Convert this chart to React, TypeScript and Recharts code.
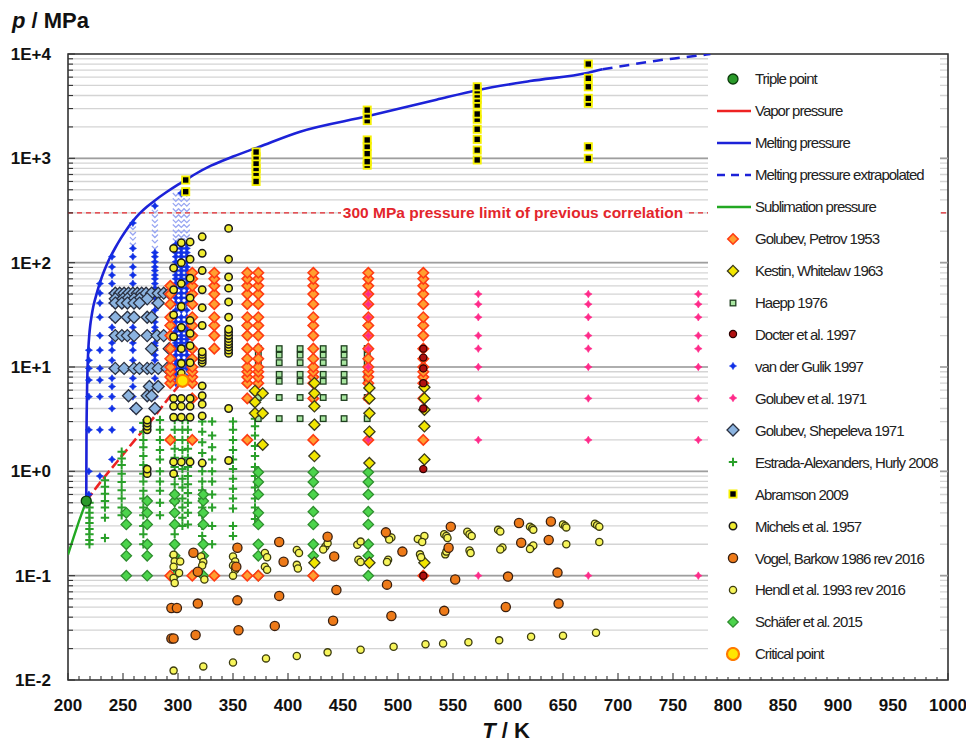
import React from 'react';
import {
  ComposedChart,
  Scatter,
  Line,
  XAxis,
  YAxis,
  CartesianGrid,
  ReferenceLine,
  ReferenceArea,
  Legend,
} from 'recharts';

// ---------- axis ticks ----------
const xLabelTicks = [200, 250, 300, 350, 400, 450, 500, 550, 600, 650, 700, 750, 800, 850, 900, 950, 1000];
const yDecades = [0.01, 0.1, 1, 10, 100, 1000, 10000];
const yDecadeLabels = ['1E-2', '1E-1', '1E+0', '1E+1', '1E+2', '1E+3', '1E+4'];

// ---------- phase boundaries (T / K, p / MPa) ----------
const triplePoint: [number, number][] = [[216.59, 0.5185]];
const criticalPoint: [number, number][] = [[304.13, 7.377]];

const sublimationCurve: [number, number][] = [
  [200, 0.159], [205, 0.232], [210, 0.333], [216.59, 0.5185],
];
const vaporCurve: [number, number][] = [
  [216.59, 0.5185], [230, 0.8], [245, 1.25], [260, 1.95], [275, 3.0], [290, 4.8], [304.13, 7.377],
];
const meltingCurve: [number, number][] = [
  [216.59, 0.5185], [216.8, 2], [217.2, 5], [217.8, 10], [218.5, 15], [219.3, 20], [220.2, 25],
  [221.5, 31], [223, 38], [225, 46], [227.5, 57], [230, 69], [233, 84], [236, 100], [239, 116],
  [243, 139], [248, 171], [253, 206], [259, 250], [265, 295], [272, 345], [279, 395], [289, 470],
  [300, 560], [307, 620], [315, 700], [330, 850], [350, 1040], [373, 1280], [411, 1800],
  [473, 2540], [535, 3650], [573, 4520], [620, 5500], [673, 6620], [686, 7130],
];
const meltingExtrapolated: [number, number][] = [
  [686, 7130], [710, 7850], [735, 8630], [760, 9300], [784, 10000],
];
const previousLimit = 300;

// ---------- experimental data ----------
// isotherms: [T, pressures]
const golubevPetrov1953: [number, number[]][] = [
  [293, [0.1, 2, 7, 8, 9, 10, 12, 15, 20, 25, 30, 40, 50, 60]],
  [313, [0.1, 2, 5, 7, 8, 9, 10, 12, 15, 20, 25, 30, 40, 50, 60, 70, 80]],
  [333, [0.1, 15, 20, 25, 30, 40, 50, 60, 70, 80]],
  [363, [0.1, 2, 5, 7, 8, 9, 10, 12, 15, 20, 25, 30, 40, 50, 60, 70, 80]],
  [373, [0.1, 7, 8, 9, 10, 12, 15, 20, 25, 30, 40, 50, 60, 70, 80]],
  [423, [0.1, 2, 5, 7, 8, 9, 10, 12, 15, 20, 25, 30, 40, 50, 60, 70, 80]],
  [473, [2, 5, 7, 8, 9, 10, 12, 15, 20, 25, 30, 40, 50, 60, 70, 80]],
  [523, [0.1, 2, 5, 7, 8, 9, 10, 12, 15, 20, 25, 30, 40, 50, 60, 70, 80]],
];
const kestinWhitelaw1963: [number, number[]][] = [
  [370, [3.6, 4.6, 5.9]],
  [377, [1.8, 3.6, 5.6]],
  [424, [0.133, 1.4, 2.8, 4.2, 5.6, 7.0]],
  [474, [0.133, 1.2, 2.4, 3.6, 5.0, 6.3]],
  [524, [0.133, 1.3, 2.7, 3.9, 5.0, 6.4]],
];
const haepp1976: [number, number[]][] = [
  [373, [3.2, 5.1, 7.3, 8.5, 11, 13, 15]],
  [392, [3.2, 5.1, 7.3, 8.5, 11, 13, 15]],
  [411, [3.2, 5.1, 7.3, 8.5, 11, 13, 15]],
  [432, [3.2, 5.1, 7.3, 8.5, 11, 13, 15]],
  [451, [3.2, 5.1, 7.3, 8.5, 11, 13, 15]],
  [472, [3.2, 5.1, 7.3, 8.5, 11, 13, 15]],
];
const docter1997: [number, number[]][] = [
  [523, [0.1, 1.05, 4.0, 7.0, 9.7, 12.3, 15]],
];
const vanDerGulik1997: [number, number[]][] = [
  [219, [0.6, 1.0, 2.5, 5.2, 7.5, 9.7, 11.6, 14.5]],
  [229, [0.9, 2.5, 5.2, 7.5, 9.7, 14.5, 20, 30, 41, 51, 63]],
  [240, [1.3, 2.5, 4, 5.2, 6.5, 7.8, 9.7, 11.6, 14.5, 17, 20, 24, 30, 41, 51, 63, 76, 91, 114]],
  [259, [2.5, 4, 5.2, 6.5, 7.8, 9.7, 11.6, 14.5, 17, 20, 24, 30, 41, 51, 63, 76, 91, 114, 137, 240]],
  [279, [5.2, 6.5, 7.8, 9.7, 11.6, 13, 14.5, 16, 17, 20, 22, 24, 27, 30, 35, 41, 46, 51, 57, 63, 70, 76, 84, 91, 102, 114, 125, 350]],
  [298, [7, 7.8, 8.7, 9.7, 10.6, 11.6, 13, 14.5, 16, 17, 18.5, 20, 22, 24, 27, 30, 35, 41, 46, 51, 57, 63, 70, 76, 84, 91, 102, 114, 125, 137, 150]],
  [303, [7.6, 8.5, 9.7, 10.6, 11.6, 13, 14.5, 16, 17, 18.5, 20, 22, 24, 27, 30, 35, 41, 46, 51, 57, 63, 70, 76, 84, 91, 102, 114, 125, 137, 150, 465]],
  [308, [8, 9.7, 10.6, 11.6, 13, 14.5, 16, 17, 18.5, 20, 22, 24, 27, 30, 35, 41, 46, 51, 57, 63, 70, 76, 84, 91, 102, 114, 125, 137, 150]],
];
// densely measured high-pressure part of the same isotherms
const vanDerGulik1997High: [number, number[]][] = [
  [259, [150, 170, 190, 215]],
  [279, [140, 160, 180, 200, 225, 250, 280, 310]],
  [298, [165, 180, 200, 225, 250, 280, 320, 360, 400, 450]],
  [303, [165, 180, 200, 225, 250, 280, 320, 360, 400, 440]],
  [308, [165, 180, 200, 225, 250, 280, 320, 360, 400, 450]],
];
const golubev1971: [number, number[]][] = [
  [473, [2, 5, 10, 15, 20, 30, 40, 50]],
  [573, [0.1, 2, 5, 10, 15, 20, 30, 40, 50]],
  [673, [0.1, 2, 5, 10, 15, 20, 30, 40, 50]],
  [773, [0.1, 2, 5, 10, 15, 20, 30, 40, 50]],
];
// isobars: [p, temperatures]
const golubevShepeleva1971: [number, number[]][] = [
  [51, [243, 247, 251, 255, 259, 263, 267, 271, 276, 282, 287, 292]],
  [45, [243, 250, 254, 260, 265, 272]],
  [41, [243, 249, 254, 260, 265, 282]],
  [30, [243, 254, 260, 272, 276]],
  [20, [243, 249, 254, 260, 272, 281, 287]],
  [15, [276, 292]],
  [9.7, [243, 251, 260, 265, 272, 276, 282, 290]],
  [6.5, [274, 282]],
  [5.3, [255, 272, 276]],
  [4.0, [262, 279]],
];
const estradaHurly2008: [number, number[]][] = [
  [219.5, [0.2, 0.22, 0.25, 0.28, 0.32, 0.36, 0.4, 0.45, 0.5]],
  [233.6, [0.23, 0.36, 0.45, 0.52, 0.61, 0.71, 0.82]],
  [248.8, [0.38, 0.45, 0.55, 0.66, 0.79, 0.95, 1.15, 1.33, 1.54]],
  [268.5, [0.2, 0.25, 0.3, 0.38, 0.45, 0.55, 0.65, 0.8, 0.95, 1.15, 1.4, 1.7, 2.0, 2.4, 2.9]],
  [283.6, [0.38, 0.5, 0.65, 0.8, 1.0, 1.3, 1.6, 2.0, 2.5, 3.1]],
  [297, [0.25, 0.31, 0.4, 0.5, 0.62, 0.75, 0.9, 1.1, 1.35, 1.65, 2.0, 2.5, 3.1]],
  [304, [0.3, 0.36, 0.45, 0.55, 0.7, 0.85, 1.05, 1.3, 1.6, 2.0, 2.5, 3.1]],
  [309, [0.31, 0.4, 0.5, 0.62, 0.75, 0.9, 1.1, 1.35, 1.65, 2.0, 2.5, 3.1]],
  [322, [0.24, 0.3, 0.38, 0.45, 0.55, 0.66, 0.8, 1.0, 1.2, 1.5, 1.9, 2.4, 3.0]],
  [331, [0.2, 0.3, 0.45, 0.6, 0.8, 1.0, 1.3, 1.7, 2.2, 3.0]],
  [350, [0.24, 0.3, 0.44, 0.55, 0.68, 0.85, 1.05, 1.3, 1.6, 2.0, 2.5, 3.0]],
  [370, [0.35, 0.45, 0.55, 0.7, 0.9, 1.1, 1.4, 1.75, 2.2, 2.7, 3.2]],
];
const abramson2009: [number, number[]][] = [
  [307, [479, 620]],
  [371, [600, 720, 800, 895, 1035, 1150]],
  [472, [860, 930, 1110, 1300, 1500, 2300, 2600, 2900]],
  [572, [965, 1200, 1520, 1900, 2370, 2660, 3250, 3680, 4050, 4450, 4850]],
  [673, [1000, 1290, 3370, 3760, 4850, 5850, 8020]],
];
const michels1957: [number, number[]][] = [
  [272, [0.95, 1.05, 2.5, 2.7, 2.9, 3.1]],
  [296, [0.95, 1.23, 3.3, 4.2, 5.0, 19.5, 31.6, 55, 89, 137]],
  [303, [1.23, 3.3, 4.2, 5.0, 8.7, 10.8, 15, 24, 38, 63, 100, 155]],
  [311, [1.23, 3.3, 4.2, 5.0, 11, 16, 21, 28, 46, 71, 108, 158]],
  [322, [1.2, 3.4, 4.4, 5.3, 6.6, 11, 11.7, 12.4, 13.2, 14, 25, 37, 55, 84, 123, 177]],
  [346, [1.27, 4.0, 13.5, 14.5, 15.5, 16.5, 17.5, 18.7, 20, 21.5, 23, 30, 42, 57, 73, 108, 213]],
];
const vogelBarkow1986: [number, number][] = [
  [294, 0.049], [299, 0.049], [318, 0.054], [354, 0.058], [392, 0.064],
  [294, 0.025], [296, 0.025], [316, 0.027], [355, 0.03], [388, 0.033],
  [314, 0.166], [318, 0.109], [354, 0.185], [353, 0.122], [392, 0.21], [396, 0.136],
  [436, 0.236], [442, 0.153], [444, 0.073], [441, 0.037],
  [489, 0.26], [504, 0.17], [490, 0.082], [494, 0.041],
  [548, 0.295], [546, 0.185], [552, 0.092], [542, 0.046],
  [610, 0.32], [612, 0.207], [600, 0.098], [598, 0.05],
  [639, 0.33], [637, 0.22], [645, 0.107], [646, 0.054],
];
const hendl1993: [number, number][] = [
  [296, 0.159], [297, 0.137], [302, 0.137], [296, 0.122], [301, 0.106], [296, 0.095], [297, 0.085],
  [321, 0.153], [323, 0.135], [322, 0.125], [324, 0.092],
  [350, 0.153], [352, 0.137], [350, 0.125], [352, 0.114], [350, 0.1],
  [379, 0.165], [381, 0.15], [379, 0.122], [381, 0.114],
  [408, 0.176], [410, 0.165], [408, 0.127], [409, 0.117],
  [434, 0.19], [436, 0.205], [432, 0.178],
  [463, 0.198], [466, 0.212], [464, 0.142], [466, 0.135],
  [491, 0.24], [494, 0.232], [492, 0.222], [491, 0.142], [490, 0.135],
  [518, 0.225], [524, 0.24], [522, 0.21], [520, 0.16], [521, 0.15],
  [542, 0.25], [544, 0.24], [545, 0.23], [543, 0.16], [544, 0.17],
  [563, 0.264], [565, 0.25], [567, 0.24], [565, 0.174], [566, 0.165],
  [591, 0.275], [593, 0.265], [595, 0.186], [593, 0.178],
  [620, 0.295], [622, 0.285], [623, 0.275], [621, 0.186], [623, 0.195], [620, 0.18],
  [650, 0.31], [652, 0.3], [653, 0.29], [653, 0.2],
  [679, 0.315], [681, 0.305], [683, 0.295], [683, 0.21],
  [296, 0.0123], [323, 0.0135], [350, 0.0147], [380, 0.0161], [408, 0.017], [436, 0.0184],
  [466, 0.0195], [496, 0.0208], [525, 0.022], [541, 0.0224], [564, 0.023], [592, 0.024],
  [621, 0.026], [650, 0.0266], [680, 0.0284],
];
const schaefer2015: [number, number[]][] = [
  [253, [0.1, 0.155, 0.2, 0.31, 0.4]],
  [272, [0.1, 0.155, 0.2, 0.31, 0.4, 0.52]],
  [297, [0.1, 0.155, 0.2, 0.31, 0.4, 0.52, 0.6]],
  [323, [0.1, 0.155, 0.2, 0.31, 0.4, 0.52, 0.6]],
  [373, [0.1, 0.155, 0.2, 0.31, 0.4, 0.6, 0.79, 0.98]],
  [423, [0.1, 0.155, 0.2, 0.31, 0.41, 0.6, 0.79, 0.98]],
  [473, [0.1, 0.155, 0.2, 0.31, 0.41, 0.6, 0.79, 0.98]],
];

// ---------- row builders ----------
type Pt = { T: number; p: number };
const fromPairs = (rows: [number, number][]): Pt[] => rows.map(([T, p]) => ({ T, p }));
const fromIsotherms = (rows: [number, number[]][]): Pt[] =>
  rows.flatMap(([T, ps]) => ps.map((p) => ({ T, p })));
const fromIsobars = (rows: [number, number[]][]): Pt[] =>
  rows.flatMap(([p, Ts]) => Ts.map((T) => ({ T, p })));

// ---------- markers ----------
type MarkerKind = 'circle' | 'diamond' | 'square' | 'plus' | 'star' | 'chevron';
interface MarkerStyle { kind: MarkerKind; r: number; fill: string; stroke: string; sw: number }

function Marker({ cx, cy, m }: { cx: number; cy: number; m: MarkerStyle }) {
  if (cx == null || cy == null || Number.isNaN(cx) || Number.isNaN(cy)) return null;
  const { r, fill, stroke, sw } = m;
  switch (m.kind) {
    case 'circle':
      return <circle cx={cx} cy={cy} r={r} fill={fill} stroke={stroke} strokeWidth={sw} />;
    case 'diamond':
      return (
        <path
          d={`M${cx},${cy - r}L${cx + r},${cy}L${cx},${cy + r}L${cx - r},${cy}Z`}
          fill={fill} stroke={stroke} strokeWidth={sw}
        />
      );
    case 'square':
      return <rect x={cx - r} y={cy - r} width={2 * r} height={2 * r} fill={fill} stroke={stroke} strokeWidth={sw} />;
    case 'plus':
      return (
        <path d={`M${cx - r},${cy}H${cx + r}M${cx},${cy - r}V${cy + r}`} fill="none" stroke={stroke} strokeWidth={sw} />
      );
    case 'star': {
      const k = r * 0.38;
      return (
        <path
          d={`M${cx},${cy - r}L${cx + k},${cy - k}L${cx + r},${cy}L${cx + k},${cy + k}L${cx},${cy + r}L${cx - k},${cy + k}L${cx - r},${cy}L${cx - k},${cy - k}Z`}
          fill={fill} stroke={stroke} strokeWidth={sw}
        />
      );
    }
    case 'chevron':
      return (
        <path d={`M${cx - r},${cy - r * 0.5}L${cx},${cy + r * 0.5}L${cx + r},${cy - r * 0.5}`} fill="none" stroke={stroke} strokeWidth={sw} />
      );
    default:
      return null;
  }
}

const M = {
  triple: { kind: 'circle', r: 5, fill: '#2a9a2a', stroke: '#0a3a0a', sw: 1.3 } as MarkerStyle,
  critical: { kind: 'circle', r: 6, fill: '#ffe600', stroke: '#ff7a00', sw: 2.2 } as MarkerStyle,
  golubevPetrov: { kind: 'diamond', r: 5.2, fill: '#ff9f30', stroke: '#ff3c14', sw: 1.6 } as MarkerStyle,
  kestin: { kind: 'diamond', r: 5.6, fill: '#f2e600', stroke: '#3a3a1a', sw: 1.3 } as MarkerStyle,
  haepp: { kind: 'square', r: 2.8, fill: '#a8e6a0', stroke: '#1f3f1f', sw: 1.3 } as MarkerStyle,
  docter: { kind: 'circle', r: 3.6, fill: '#b01010', stroke: '#2a0000', sw: 1.2 } as MarkerStyle,
  gulik: { kind: 'star', r: 3.6, fill: '#1030e6', stroke: '#1030e6', sw: 0.6 } as MarkerStyle,
  gulikHigh: { kind: 'chevron', r: 3, fill: 'none', stroke: '#98a6f2', sw: 1.3 } as MarkerStyle,
  golubev71: { kind: 'star', r: 3.8, fill: '#ff2a8a', stroke: '#ff2a8a', sw: 0.6 } as MarkerStyle,
  shepeleva: { kind: 'diamond', r: 6, fill: '#8cb4e0', stroke: '#2a3040', sw: 1.3 } as MarkerStyle,
  estrada: { kind: 'plus', r: 4.2, fill: 'none', stroke: '#2aa02a', sw: 2 } as MarkerStyle,
  abramson: { kind: 'square', r: 3.6, fill: '#000000', stroke: '#f5f000', sw: 1.8 } as MarkerStyle,
  michels: { kind: 'circle', r: 3.7, fill: '#f0ec30', stroke: '#1a1a1a', sw: 1.5 } as MarkerStyle,
  vogel: { kind: 'circle', r: 4.6, fill: '#ee7a18', stroke: '#3a2010', sw: 1.3 } as MarkerStyle,
  hendl: { kind: 'circle', r: 3.6, fill: '#f7f55a', stroke: '#3c3c10', sw: 1.3 } as MarkerStyle,
  schaefer: { kind: 'diamond', r: 5.2, fill: '#4cd44c', stroke: '#2e8e2e', sw: 1.3 } as MarkerStyle,
};

const COLORS = { vapor: '#ee2222', melting: '#1c22d8', sublimation: '#22a822', limit: '#e3262c' };

// ---------- legend ----------
type LegendEntry = { name: string; line?: { color: string; dash?: string }; marker?: MarkerStyle };
const legendEntries: LegendEntry[] = [
  { name: 'Triple point', marker: M.triple },
  { name: 'Vapor pressure', line: { color: COLORS.vapor } },
  { name: 'Melting pressure', line: { color: COLORS.melting } },
  { name: 'Melting pressure extrapolated', line: { color: COLORS.melting, dash: '8 6' } },
  { name: 'Sublimation pressure', line: { color: COLORS.sublimation } },
  { name: 'Golubev, Petrov 1953', marker: M.golubevPetrov },
  { name: 'Kestin, Whitelaw 1963', marker: M.kestin },
  { name: 'Haepp 1976', marker: M.haepp },
  { name: 'Docter et al. 1997', marker: M.docter },
  { name: 'van der Gulik 1997', marker: M.gulik },
  { name: 'Golubev et al. 1971', marker: M.golubev71 },
  { name: 'Golubev, Shepeleva 1971', marker: M.shepeleva },
  { name: 'Estrada-Alexanders, Hurly 2008', marker: M.estrada },
  { name: 'Abramson 2009', marker: M.abramson },
  { name: 'Michels et al. 1957', marker: M.michels },
  { name: 'Vogel, Barkow 1986 rev 2016', marker: M.vogel },
  { name: 'Hendl et al. 1993 rev 2016', marker: M.hendl },
  { name: 'Schäfer et al. 2015', marker: M.schaefer },
  { name: 'Critical point', marker: M.critical },
];

const FONT = 'Arial, "Liberation Sans", Helvetica, sans-serif';

function LegendBox() {
  return (
    <div style={{ width: 232, height: 620, background: '#fff', paddingTop: 6, boxSizing: 'border-box', fontFamily: FONT }}>
      {legendEntries.map((e) => (
        <div key={e.name} style={{ height: 31.95, display: 'flex', alignItems: 'center' }}>
          <svg width={40} height={14} style={{ marginLeft: 8, flex: 'none' }}>
            {e.line && (
              <line x1={1} x2={35} y1={7} y2={7} stroke={e.line.color} strokeWidth={2.6} strokeDasharray={e.line.dash} />
            )}
            {e.marker && <Marker cx={17} cy={7} m={e.marker} />}
          </svg>
          <span style={{ fontSize: 15, letterSpacing: -1, color: '#222', whiteSpace: 'nowrap', marginLeft: -1 }}>{e.name}</span>
        </div>
      ))}
    </div>
  );
}

// ---------- ticks ----------
const yMinorTicks = yDecades.slice(0, -1).flatMap((d) => [2, 3, 4, 5, 6, 7, 8, 9].map((k) => +(d * k).toPrecision(6)));
const yAllTicks = [...yDecades, ...yMinorTicks].sort((a, b) => a - b);
const xAllTicks = Array.from({ length: 81 }, (_, i) => 200 + i * 10);

const decadeLabel = (v: number) => {
  const i = yDecades.findIndex((d) => Math.abs(d - v) / d < 1e-6);
  return i >= 0 ? yDecadeLabels[i] : null;
};

const LEFT_MARGIN = 17;
function LeftTick(props: any) {
  const { x, y, payload } = props;
  const label = decadeLabel(payload.value);
  const ax = x + LEFT_MARGIN;
  return (
    <g>
      <line x1={ax} x2={ax + (label ? 7 : 5)} y1={y} y2={y} stroke="#333" strokeWidth={1.1} />
      {label && (
        <text x={x} y={y} dy={6} textAnchor="end" fontSize={17} fontWeight="bold" fill="#111" fontFamily={FONT}>
          {label}
        </text>
      )}
    </g>
  );
}
function RightTick(props: any) {
  const { x, y, payload } = props;
  const major = decadeLabel(payload.value) !== null;
  return <line x1={x} x2={x - (major ? 6 : 4)} y1={y} y2={y} stroke="#333" strokeWidth={1.1} />;
}
function BottomTick(props: any) {
  const { x, y, payload } = props;
  const v = payload.value as number;
  const labelled = xLabelTicks.includes(v);
  return (
    <g>
      <line x1={x} x2={x} y1={y} y2={y - (labelled ? 7 : 4)} stroke="#333" strokeWidth={1.1} />
      {labelled && (
        <text x={x} y={y + 31} textAnchor="middle" fontSize={17} fontWeight="bold" fill="#111" fontFamily={FONT}>
          {v}
        </text>
      )}
    </g>
  );
}

function LimitLabel(props: any) {
  const vb = props.viewBox || {};
  const cx = vb.x + vb.width * 0.5 + 5;
  const cy = vb.y;
  return (
    <g>
      <rect x={cx - 172} y={cy - 9} width={344} height={18} fill="#fff" />
      <text x={cx} y={cy} dy={5.5} textAnchor="middle" fontSize={15.5} fontWeight="bold" fill={COLORS.limit} fontFamily={FONT}>
        {previousLimit} MPa pressure limit of previous correlation
      </text>
    </g>
  );
}

const scatterLayers: { key: string; data: Pt[]; m: MarkerStyle }[] = [
  { key: 'estrada', data: fromIsotherms(estradaHurly2008), m: M.estrada },
  { key: 'schaefer', data: fromIsotherms(schaefer2015), m: M.schaefer },
  { key: 'gulikHigh', data: fromIsotherms(vanDerGulik1997High), m: M.gulikHigh },
  { key: 'gulik', data: fromIsotherms(vanDerGulik1997), m: M.gulik },
  { key: 'shepeleva', data: fromIsobars(golubevShepeleva1971), m: M.shepeleva },
  { key: 'haepp', data: fromIsotherms(haepp1976), m: M.haepp },
  { key: 'golubevPetrov', data: fromIsotherms(golubevPetrov1953), m: M.golubevPetrov },
  { key: 'golubev71', data: fromIsotherms(golubev1971), m: M.golubev71 },
  { key: 'kestin', data: fromIsotherms(kestinWhitelaw1963), m: M.kestin },
  { key: 'docter', data: fromIsotherms(docter1997), m: M.docter },
  { key: 'michels', data: fromIsotherms(michels1957), m: M.michels },
  { key: 'hendl', data: fromPairs(hendl1993), m: M.hendl },
  { key: 'vogel', data: fromPairs(vogelBarkow1986), m: M.vogel },
  { key: 'abramson', data: fromIsotherms(abramson2009), m: M.abramson },
];

export default function App() {
  return (
    <div style={{ position: 'relative', marginLeft: -8, marginTop: -8, width: 974, height: 743, background: '#fff' }}>
      <ComposedChart width={974} height={743} margin={{ top: 54, right: 26, bottom: 0, left: 0 }}>
        <CartesianGrid vertical={false} stroke="#d4d4d4" strokeWidth={1.3} />
        {yDecades.slice(1, -1).map((d) => (
          <ReferenceLine key={d} y={d} stroke="#9e9e9e" strokeWidth={1.6} />
        ))}
        <XAxis
          type="number"
          dataKey="T"
          domain={[200, 1000]}
          ticks={xAllTicks}
          interval={0}
          allowDataOverflow
          height={63}
          tickSize={0}
          tickMargin={0}
          axisLine={false}
          tick={<BottomTick />}
          label={{
            content: () => (
              <text x={506} y={738} textAnchor="middle" fontSize={22} fontWeight="bold" fill="#111" fontFamily={FONT}>
                <tspan fontStyle="italic">T</tspan> / K
              </text>
            ),
          }}
        />
        <YAxis
          type="number"
          dataKey="p"
          scale="log"
          domain={[0.01, 10000]}
          ticks={yAllTicks}
          interval={0}
          allowDataOverflow
          width={68}
          tickSize={0}
          tickMargin={LEFT_MARGIN}
          axisLine={false}
          tick={<LeftTick />}
          label={{
            content: () => (
              <text x={12} y={28} fontSize={22} fontWeight="bold" fill="#111" fontFamily={FONT}>
                <tspan fontStyle="italic">p</tspan> / MPa
              </text>
            ),
          }}
        />
        <YAxis
          yAxisId="r"
          orientation="right"
          type="number"
          scale="log"
          domain={[0.01, 10000]}
          ticks={yAllTicks}
          interval={0}
          allowDataOverflow
          width={0}
          tickSize={0}
          tickMargin={0}
          axisLine={false}
          tick={<RightTick />}
        />
        <ReferenceLine
          y={previousLimit}
          stroke={COLORS.limit}
          strokeWidth={1.4}
          strokeDasharray="5 4"
          label={<LimitLabel />}
        />

        {scatterLayers.map((s) => (
          <Scatter
            key={s.key}
            data={s.data}
            isAnimationActive={false}
            legendType="none"
            shape={(props: any) => <Marker cx={props.cx} cy={props.cy} m={s.m} />}
          />
        ))}

        <Line data={fromPairs(sublimationCurve)} dataKey="p" type="linear" stroke={COLORS.sublimation} strokeWidth={2.4} dot={false} isAnimationActive={false} legendType="none" />
        <Line data={fromPairs(vaporCurve)} dataKey="p" type="monotone" stroke={COLORS.vapor} strokeWidth={2.6} strokeDasharray="10 4" dot={false} isAnimationActive={false} legendType="none" />
        <Line data={fromPairs(meltingCurve)} dataKey="p" type="monotone" stroke={COLORS.melting} strokeWidth={2.6} dot={false} isAnimationActive={false} legendType="none" />
        <Line data={fromPairs(meltingExtrapolated)} dataKey="p" type="monotone" stroke={COLORS.melting} strokeWidth={2.6} strokeDasharray="10 7" dot={false} isAnimationActive={false} legendType="none" />

        <Scatter data={fromPairs(triplePoint)} isAnimationActive={false} legendType="none" shape={(props: any) => <Marker cx={props.cx} cy={props.cy} m={M.triple} />} />
        <Scatter data={fromPairs(criticalPoint)} isAnimationActive={false} legendType="none" shape={(props: any) => <Marker cx={props.cx} cy={props.cy} m={M.critical} />} />

        <ReferenceArea x1={200} x2={1000} y1={0.01} y2={10000} fill="none" stroke="#333" strokeWidth={1.6} />

        <Legend
          layout="vertical"
          align="center"
          verticalAlign="middle"
          wrapperStyle={{ left: 708, top: 57, width: 232, height: 620 }}
          content={() => <LegendBox />}
        />
      </ComposedChart>
    </div>
  );
}
